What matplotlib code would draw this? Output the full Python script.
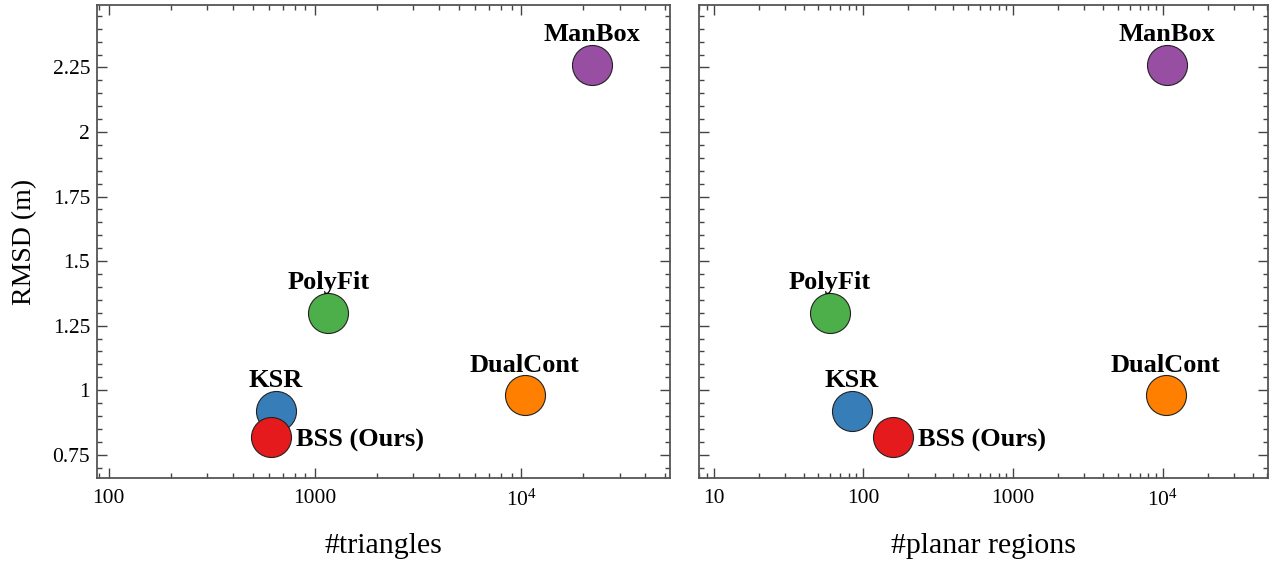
import numpy as np
import matplotlib.pyplot as plt
from matplotlib.ticker import LogLocator, MultipleLocator, FuncFormatter

# Methods and their scores
methods = ['ManBox', 'PolyFit', 'KSR', 'BSS (Ours)', 'DualCont']
colors = ['#984ea3', '#4daf4a', '#377eb8', '#e41a1c', '#ff7f00']
rmsd = [2.26, 1.30, 0.92, 0.82, 0.98]
n_triangles = [22000, 1160, 645, 615, 10400]
n_regions = [10700, 60, 84, 159, 10500]

plt.rcParams['font.family'] = ['Liberation Serif', 'DejaVu Serif']
plt.rcParams['mathtext.fontset'] = 'custom'
plt.rcParams['mathtext.rm'] = 'Liberation Serif'
plt.rcParams['mathtext.it'] = 'Liberation Serif:italic'
plt.rcParams['mathtext.bf'] = 'Liberation Serif:bold'


def log_label(v, pos):
    if v >= 1e4:
        return r'$\mathregular{10^{%d}}$' % int(round(np.log10(v)))
    return '%d' % v


def y_label(v, pos):
    s = ('%.2f' % v).rstrip('0').rstrip('.')
    return s


def style_axis(ax):
    ax.set_xscale('log')
    ax.xaxis.set_major_locator(LogLocator(base=10, numticks=10))
    ax.xaxis.set_minor_locator(LogLocator(base=10, subs=np.arange(2, 10), numticks=20))
    ax.xaxis.set_major_formatter(FuncFormatter(log_label))
    ax.yaxis.set_major_locator(MultipleLocator(0.25))
    ax.yaxis.set_minor_locator(MultipleLocator(0.05))
    ax.yaxis.set_major_formatter(FuncFormatter(y_label))
    ax.tick_params(which='both', direction='in', top=True, right=True,
                   color='#444444', width=1.0, labelsize=15.5)
    ax.tick_params(axis='x', pad=8)
    ax.tick_params(axis='y', pad=5)
    ax.tick_params(which='major', length=7)
    ax.tick_params(which='minor', length=3.5)
    for sp in ax.spines.values():
        sp.set_color('#555555')
        sp.set_linewidth(1.3)
    ax.set_ylim(0.66, 2.49)


def draw_points(ax, xs):
    for name, c, x, y in zip(methods, colors, xs, rmsd):
        ax.scatter(x, y, s=830, color=c, edgecolor='#222222', linewidth=0.8, zorder=3)
        if name.startswith('BSS'):
            ax.annotate(name, (x, y), xytext=(18, -3), textcoords='offset points',
                        ha='left', va='center', fontsize=19, fontweight='bold')
        else:
            ax.annotate(name, (x, y), xytext=(0, 17), textcoords='offset points',
                        ha='center', va='baseline', fontsize=19, fontweight='bold')


fig = plt.figure(figsize=(12.77, 5.64), dpi=100)
ax1 = fig.add_axes([0.0760, 0.1525, 0.4487, 0.8378])
ax2 = fig.add_axes([0.5474, 0.1525, 0.4456, 0.8378])

style_axis(ax1)
draw_points(ax1, n_triangles)
ax1.set_xlim(88, 52600)
ax1.set_xlabel('#triangles', fontsize=21.5, labelpad=16)
ax1.set_ylabel('RMSD (m)', fontsize=20, labelpad=11)

style_axis(ax2)
draw_points(ax2, n_regions)
ax2.set_xlim(8.0, 50500)
ax2.set_xlabel('#planar regions', fontsize=21.5, labelpad=16)
ax2.tick_params(axis='y', labelleft=False)

fig.savefig('out.png', dpi=100)
